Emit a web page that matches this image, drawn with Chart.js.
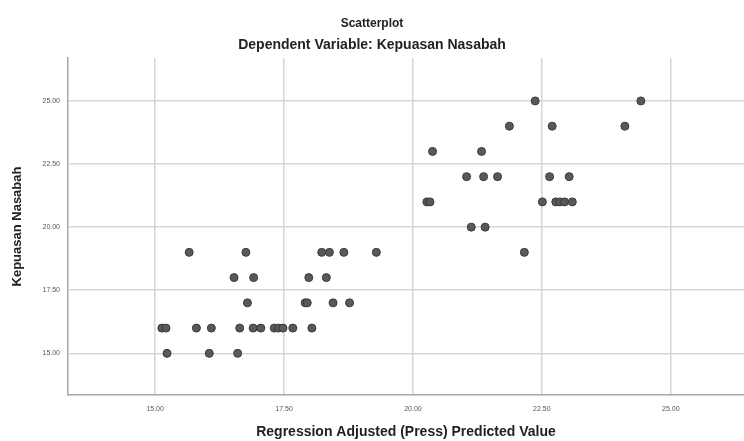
<!DOCTYPE html>
<html>
<head>
<meta charset="utf-8">
<script src="https://cdn.jsdelivr.net/npm/chart.js@4"></script>
<style>
  html, body { margin: 0; padding: 0; background: #fff; }
  .chart-wrapper { width: 744px; height: 441px; }
</style>
</head>
<body>
<div class="chart-wrapper">
  <canvas id="chart"></canvas>
</div>
<script>
const predicted = [
  15.66, 16.76, 18.23, 18.38, 18.66, 19.29, 22.16,
  16.53, 16.91, 17.98, 18.32,
  16.79, 17.91, 17.95, 18.45, 18.77,
  15.13, 15.21, 15.80, 16.09, 16.64, 16.90, 17.05, 17.31, 17.39, 17.48, 17.67, 18.04,
  15.23, 16.05, 16.60,
  22.37, 24.42,
  21.87, 22.70, 24.11,
  20.38, 21.33,
  21.04, 21.37, 21.64, 22.65, 23.03,
  20.27, 20.33, 22.51, 22.77, 22.85, 22.94, 23.09,
  21.13, 21.40
];
const kepuasan = [
  19, 19, 19, 19, 19, 19, 19,
  18, 18, 18, 18,
  17, 17, 17, 17, 17,
  16, 16, 16, 16, 16, 16, 16, 16, 16, 16, 16, 16,
  15, 15, 15,
  25, 25,
  24, 24, 24,
  23, 23,
  22, 22, 22, 22, 22,
  21, 21, 21, 21, 21, 21, 21,
  20, 20
];
const xTicks = [15, 17.5, 20, 22.5, 25];
const yTicks = [15, 17.5, 20, 22.5, 25];

const fontFamily = "'Liberation Sans', Arial, sans-serif";
const points = predicted.map((x, i) => ({ x: x, y: kepuasan[i] }));

const ctx = document.getElementById("chart").getContext("2d");
new Chart(ctx, {
  type: "scatter",
  data: {
    datasets: [
      {
        label: "Kepuasan Nasabah",
        data: points,
        backgroundColor: "#595959",
        borderColor: "#3a3a3a",
        borderWidth: 1,
        pointRadius: 4,
      },
    ],
  },
  options: {
    responsive: true,
    maintainAspectRatio: false,
    animation: false,
    layout: { padding: 0, autoPadding: false },
    plugins: {
      legend: { display: false },
      tooltip: { enabled: false },
      title: {
        display: true,
        text: "Scatterplot",
        color: "#222",
        font: { family: fontFamily, size: 12, weight: "bold" },
        padding: { top: 16.5, bottom: 0 },
      },
      subtitle: {
        display: true,
        text: "Dependent Variable: Kepuasan Nasabah",
        color: "#222",
        font: { family: fontFamily, size: 14, weight: "bold" },
        padding: { top: 6, bottom: 4.3 },
      },
    },
    scales: {
      x: {
        type: "linear",
        min: 13.31,
        max: 26.42,
        afterBuildTicks: (scale) => {
          scale.ticks = xTicks.map((v) => ({ value: v }));
        },
        afterFit: (scale) => {
          scale.height = 46;
        },
        grid: { color: "#d6d6d6", lineWidth: 1.5, drawTicks: false },
        border: { color: "#a8a8a8", width: 1.5 },
        ticks: {
          padding: 10,
          color: "#555",
          font: { family: fontFamily, size: 7 },
          callback: (v) => v.toFixed(2),
        },
        title: {
          display: true,
          text: "Regression Adjusted (Press) Predicted Value",
          color: "#222",
          font: { family: fontFamily, size: 14, weight: "bold" },
          padding: { top: 0, bottom: 0 },
        },
      },
      y: {
        type: "linear",
        min: 13.35,
        max: 26.7,
        afterBuildTicks: (scale) => {
          scale.ticks = yTicks.map((v) => ({ value: v }));
        },
        afterFit: (scale) => {
          scale.width = 68;
        },
        grid: { color: "#d6d6d6", lineWidth: 1.5, drawTicks: false },
        border: { color: "#a8a8a8", width: 1.5 },
        ticks: {
          padding: 8,
          color: "#555",
          font: { family: fontFamily, size: 7 },
          callback: (v) => v.toFixed(2),
        },
        title: {
          display: true,
          text: "Kepuasan Nasabah",
          color: "#222",
          font: { family: fontFamily, size: 13, weight: "bold" },
          padding: { top: 10, bottom: 0 },
        },
      },
    },
  },
});
</script>
</body>
</html>
